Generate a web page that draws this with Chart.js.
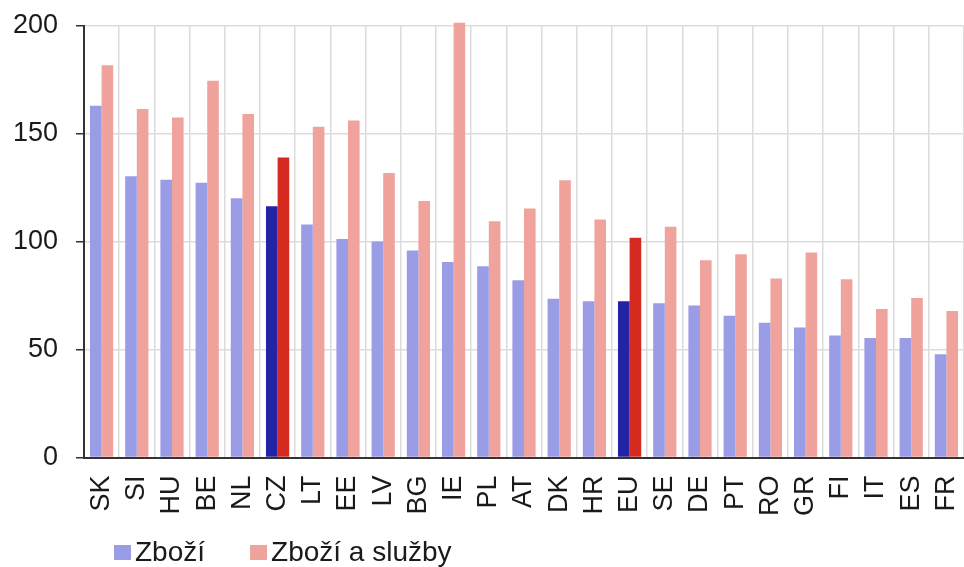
<!DOCTYPE html>
<html>
<head>
<meta charset="utf-8">
<script src="https://cdn.jsdelivr.net/npm/chart.js@4.4.0/dist/chart.umd.min.js"></script>
<style>
  html, body { margin: 0; padding: 0; background: #fff; }
  #wrap { width: 964px; height: 567px; }
</style>
</head>
<body>
<div id="wrap"><canvas id="chart"></canvas></div>
<script>
// Data
const countries = ['SK', 'SI', 'HU', 'BE', 'NL', 'CZ', 'LT', 'EE', 'LV', 'BG', 'IE', 'PL', 'AT',
  'DK', 'HR', 'EU', 'SE', 'DE', 'PT', 'RO', 'GR', 'FI', 'IT', 'ES', 'FR'];
const goods = [163, 130.4, 128.7, 127.3, 120.2, 116.5, 108, 101.3, 100.1, 95.9, 90.6, 88.6, 82.1,
  73.6, 72.4, 72.4, 71.5, 70.4, 65.7, 62.5, 60.3, 56.6, 55.4, 55.4, 47.8];
const goodsServices = [181.8, 161.5, 157.6, 174.6, 159.2, 139.1, 153.3, 156.2, 131.9, 118.9, 201.5, 109.5, 115.4,
  128.5, 110.3, 101.8, 106.9, 91.4, 94.2, 83, 95, 82.6, 68.8, 73.9, 67.9];
const seriesNames = ['Zboží', 'Zboží a služby'];
const highlighted = ['CZ', 'EU'];
const yTicks = [0, 50, 100, 150, 200];

// Colours
const goodsColor = '#9a9ce6';
const goodsHighlight = '#2323a6';
const servicesColor = '#f0a39d';
const servicesHighlight = '#d62a20';

const fontFamily = '"Liberation Sans", Arial, sans-serif';

function colorsFor(base, strong) {
  return countries.map(c => highlighted.includes(c) ? strong : base);
}

// Legend drawn under the axis labels
const bottomLegend = {
  id: 'bottomLegend',
  afterDraw(chart) {
    const ctx = chart.ctx;
    const items = [
      { text: seriesNames[0], color: goodsColor },
      { text: seriesNames[1], color: servicesColor }
    ];
    ctx.save();
    ctx.font = '28px ' + fontFamily;
    ctx.textBaseline = 'middle';
    let x = chart.chartArea.left + 30;
    const y = chart.height - 15;
    items.forEach(item => {
      ctx.fillStyle = item.color;
      ctx.fillRect(x, y - 7, 17, 15);
      ctx.fillStyle = '#1a1a1a';
      ctx.fillText(item.text, x + 21, y + 1);
      x += 21 + ctx.measureText(item.text).width + 45;
    });
    ctx.restore();
  }
};

const chart = new Chart(document.getElementById('chart'), {
  type: 'bar',
  data: {
    labels: countries,
    datasets: [
      {
        label: seriesNames[0],
        data: goods,
        backgroundColor: colorsFor(goodsColor, goodsHighlight),
        categoryPercentage: 0.66,
        barPercentage: 1,
        clip: false
      },
      {
        label: seriesNames[1],
        data: goodsServices,
        backgroundColor: colorsFor(servicesColor, servicesHighlight),
        categoryPercentage: 0.66,
        barPercentage: 1,
        clip: false
      }
    ]
  },
  options: {
    responsive: true,
    maintainAspectRatio: false,
    animation: false,
    layout: { padding: { left: 0, top: 26, right: 0, bottom: 33 } },
    plugins: {
      legend: { display: false },
      tooltip: { enabled: false }
    },
    scales: {
      x: {
        afterFit(scale) {
          scale.paddingLeft = 0;
          scale.paddingRight = 0;
        },
        grid: { color: '#dcdcdc', lineWidth: 1.5, offset: true, drawTicks: false },
        border: { color: '#333', width: 2 },
        ticks: {
          color: '#1a1a1a',
          font: { family: fontFamily, size: 27 },
          maxRotation: 90,
          minRotation: 90,
          padding: 18,
          autoSkip: false
        }
      },
      y: {
        min: 0,
        max: 200,
        afterBuildTicks(scale) {
          scale.ticks = yTicks.map(v => ({ value: v }));
        },
        afterFit(scale) {
          scale.width = 84;
          scale.paddingTop = 0;
          scale.paddingBottom = 0;
        },
        grid: { color: '#dcdcdc', lineWidth: 1.5, tickColor: '#333', tickLength: 8 },
        border: { color: '#333', width: 2 },
        ticks: {
          color: '#1a1a1a',
          font: { family: fontFamily, size: 27 },
          padding: 18
        }
      }
    }
  },
  plugins: [bottomLegend]
});
</script>
</body>
</html>
